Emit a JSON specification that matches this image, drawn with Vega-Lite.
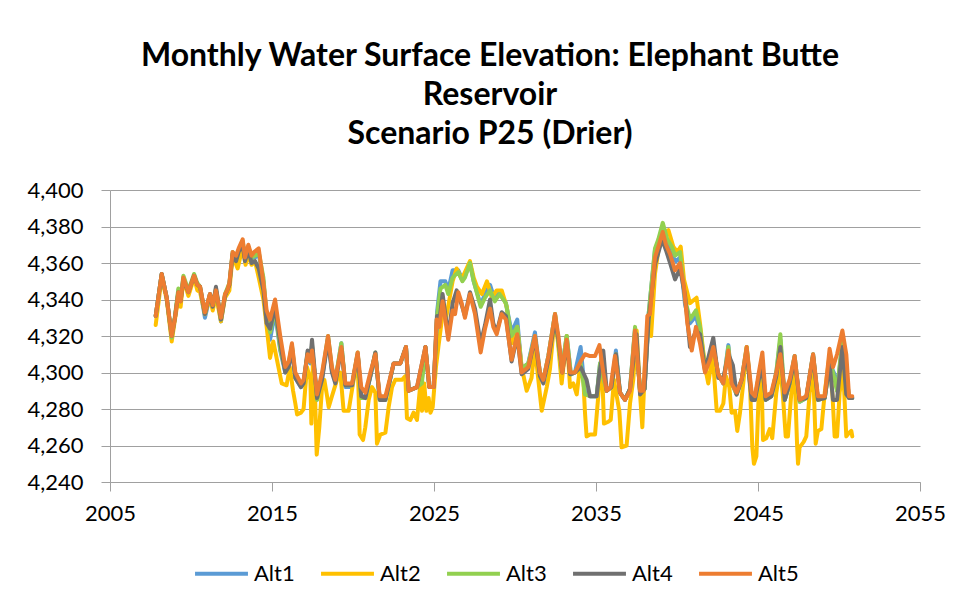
{
"$schema": "https://vega.github.io/schema/vega-lite/v6.json",
"autosize": {"type": "none"},
"width": 810,
"height": 292,
"padding": {"left": 110, "top": 190, "right": 43, "bottom": 126},
"background": "white",
"title": {"text": ["Monthly Water Surface Elevation: Elephant Butte", "Reservoir", "Scenario P25 (Drier)"], "font": "Lato", "fontSize": 32, "fontWeight": "bold", "color": "black", "lineHeight": 39, "offset": 28, "dx": -25, "anchor": "middle"},
"data": {"values": [
{"alt":"Alt1","year":2007.82,"elev":4331},{"alt":"Alt1","year":2008.19,"elev":4354},{"alt":"Alt1","year":2008.5,"elev":4341},{"alt":"Alt1","year":2008.81,"elev":4319},{"alt":"Alt1","year":2009.01,"elev":4330},{"alt":"Alt1","year":2009.22,"elev":4345},{"alt":"Alt1","year":2009.36,"elev":4339},{"alt":"Alt1","year":2009.53,"elev":4352},{"alt":"Alt1","year":2009.84,"elev":4344},{"alt":"Alt1","year":2010.19,"elev":4353},{"alt":"Alt1","year":2010.39,"elev":4348},{"alt":"Alt1","year":2010.56,"elev":4346},{"alt":"Alt1","year":2010.86,"elev":4330},{"alt":"Alt1","year":2011.17,"elev":4342},{"alt":"Alt1","year":2011.34,"elev":4336},{"alt":"Alt1","year":2011.54,"elev":4345},{"alt":"Alt1","year":2011.85,"elev":4328},{"alt":"Alt1","year":2012.1,"elev":4342},{"alt":"Alt1","year":2012.37,"elev":4348},{"alt":"Alt1","year":2012.57,"elev":4365},{"alt":"Alt1","year":2012.78,"elev":4362},{"alt":"Alt1","year":2012.94,"elev":4366},{"alt":"Alt1","year":2013.19,"elev":4371},{"alt":"Alt1","year":2013.33,"elev":4362},{"alt":"Alt1","year":2013.54,"elev":4368},{"alt":"Alt1","year":2013.74,"elev":4362},{"alt":"Alt1","year":2013.95,"elev":4363},{"alt":"Alt1","year":2014.18,"elev":4365},{"alt":"Alt1","year":2014.47,"elev":4350},{"alt":"Alt1","year":2014.67,"elev":4330},{"alt":"Alt1","year":2014.88,"elev":4318},{"alt":"Alt1","year":2015.19,"elev":4333},{"alt":"Alt1","year":2015.51,"elev":4312},{"alt":"Alt1","year":2015.82,"elev":4300},{"alt":"Alt1","year":2016.03,"elev":4304},{"alt":"Alt1","year":2016.23,"elev":4314},{"alt":"Alt1","year":2016.44,"elev":4297},{"alt":"Alt1","year":2016.79,"elev":4292},{"alt":"Alt1","year":2016.95,"elev":4294},{"alt":"Alt1","year":2017.2,"elev":4310},{"alt":"Alt1","year":2017.37,"elev":4305},{"alt":"Alt1","year":2017.47,"elev":4314},{"alt":"Alt1","year":2017.78,"elev":4285},{"alt":"Alt1","year":2018.09,"elev":4297},{"alt":"Alt1","year":2018.46,"elev":4319},{"alt":"Alt1","year":2018.7,"elev":4301},{"alt":"Alt1","year":2018.91,"elev":4295},{"alt":"Alt1","year":2019.28,"elev":4316},{"alt":"Alt1","year":2019.53,"elev":4292},{"alt":"Alt1","year":2019.94,"elev":4292},{"alt":"Alt1","year":2020.29,"elev":4310},{"alt":"Alt1","year":2020.51,"elev":4287},{"alt":"Alt1","year":2020.76,"elev":4287},{"alt":"Alt1","year":2021.07,"elev":4298},{"alt":"Alt1","year":2021.38,"elev":4310},{"alt":"Alt1","year":2021.65,"elev":4285},{"alt":"Alt1","year":2022.0,"elev":4285},{"alt":"Alt1","year":2022.26,"elev":4295},{"alt":"Alt1","year":2022.51,"elev":4305},{"alt":"Alt1","year":2022.92,"elev":4305},{"alt":"Alt1","year":2023.27,"elev":4314},{"alt":"Alt1","year":2023.44,"elev":4290},{"alt":"Alt1","year":2023.95,"elev":4292},{"alt":"Alt1","year":2024.25,"elev":4296},{"alt":"Alt1","year":2024.47,"elev":4314},{"alt":"Alt1","year":2024.71,"elev":4292},{"alt":"Alt1","year":2024.98,"elev":4292},{"alt":"Alt1","year":2025.19,"elev":4333},{"alt":"Alt1","year":2025.4,"elev":4350},{"alt":"Alt1","year":2025.7,"elev":4350},{"alt":"Alt1","year":2025.88,"elev":4345},{"alt":"Alt1","year":2026.15,"elev":4356},{"alt":"Alt1","year":2026.5,"elev":4356},{"alt":"Alt1","year":2026.75,"elev":4351},{"alt":"Alt1","year":2026.91,"elev":4353},{"alt":"Alt1","year":2027.22,"elev":4360},{"alt":"Alt1","year":2027.45,"elev":4350},{"alt":"Alt1","year":2027.88,"elev":4337},{"alt":"Alt1","year":2028.15,"elev":4343},{"alt":"Alt1","year":2028.46,"elev":4348},{"alt":"Alt1","year":2028.75,"elev":4340},{"alt":"Alt1","year":2029.05,"elev":4344},{"alt":"Alt1","year":2029.44,"elev":4338},{"alt":"Alt1","year":2029.79,"elev":4322},{"alt":"Alt1","year":2030.14,"elev":4329},{"alt":"Alt1","year":2030.41,"elev":4302},{"alt":"Alt1","year":2030.82,"elev":4305},{"alt":"Alt1","year":2031.23,"elev":4322},{"alt":"Alt1","year":2031.54,"elev":4300},{"alt":"Alt1","year":2031.75,"elev":4296},{"alt":"Alt1","year":2032.06,"elev":4309},{"alt":"Alt1","year":2032.47,"elev":4332},{"alt":"Alt1","year":2032.88,"elev":4301},{"alt":"Alt1","year":2033.19,"elev":4320},{"alt":"Alt1","year":2033.45,"elev":4299},{"alt":"Alt1","year":2033.7,"elev":4300},{"alt":"Alt1","year":2034.05,"elev":4314},{"alt":"Alt1","year":2034.32,"elev":4289},{"alt":"Alt1","year":2034.63,"elev":4287},{"alt":"Alt1","year":2035.04,"elev":4287},{"alt":"Alt1","year":2035.25,"elev":4305},{"alt":"Alt1","year":2035.45,"elev":4297},{"alt":"Alt1","year":2035.66,"elev":4290},{"alt":"Alt1","year":2035.95,"elev":4292},{"alt":"Alt1","year":2036.23,"elev":4312},{"alt":"Alt1","year":2036.48,"elev":4289},{"alt":"Alt1","year":2036.79,"elev":4285},{"alt":"Alt1","year":2037.1,"elev":4291},{"alt":"Alt1","year":2037.41,"elev":4324},{"alt":"Alt1","year":2037.72,"elev":4290},{"alt":"Alt1","year":2038.0,"elev":4291},{"alt":"Alt1","year":2038.25,"elev":4332},{"alt":"Alt1","year":2038.64,"elev":4367},{"alt":"Alt1","year":2038.85,"elev":4372},{"alt":"Alt1","year":2039.12,"elev":4380},{"alt":"Alt1","year":2039.4,"elev":4370},{"alt":"Alt1","year":2039.68,"elev":4364},{"alt":"Alt1","year":2039.94,"elev":4361},{"alt":"Alt1","year":2040.19,"elev":4363},{"alt":"Alt1","year":2040.5,"elev":4337},{"alt":"Alt1","year":2040.8,"elev":4327},{"alt":"Alt1","year":2041.17,"elev":4331},{"alt":"Alt1","year":2041.42,"elev":4322},{"alt":"Alt1","year":2041.73,"elev":4302},{"alt":"Alt1","year":2042.24,"elev":4314},{"alt":"Alt1","year":2042.55,"elev":4299},{"alt":"Alt1","year":2042.86,"elev":4294},{"alt":"Alt1","year":2043.17,"elev":4315},{"alt":"Alt1","year":2043.4,"elev":4294},{"alt":"Alt1","year":2043.68,"elev":4288},{"alt":"Alt1","year":2043.99,"elev":4296},{"alt":"Alt1","year":2044.3,"elev":4313},{"alt":"Alt1","year":2044.61,"elev":4285},{"alt":"Alt1","year":2044.81,"elev":4285},{"alt":"Alt1","year":2045.05,"elev":4298},{"alt":"Alt1","year":2045.27,"elev":4303},{"alt":"Alt1","year":2045.47,"elev":4285},{"alt":"Alt1","year":2045.82,"elev":4287},{"alt":"Alt1","year":2046.13,"elev":4300},{"alt":"Alt1","year":2046.38,"elev":4318},{"alt":"Alt1","year":2046.65,"elev":4285},{"alt":"Alt1","year":2046.95,"elev":4294},{"alt":"Alt1","year":2047.26,"elev":4309},{"alt":"Alt1","year":2047.57,"elev":4284},{"alt":"Alt1","year":2047.98,"elev":4286},{"alt":"Alt1","year":2048.4,"elev":4310},{"alt":"Alt1","year":2048.7,"elev":4285},{"alt":"Alt1","year":2049.12,"elev":4286},{"alt":"Alt1","year":2049.42,"elev":4305},{"alt":"Alt1","year":2049.73,"elev":4299},{"alt":"Alt1","year":2049.88,"elev":4290},{"alt":"Alt1","year":2050.21,"elev":4316},{"alt":"Alt1","year":2050.45,"elev":4300},{"alt":"Alt1","year":2050.62,"elev":4286},{"alt":"Alt1","year":2050.82,"elev":4286},
{"alt":"Alt2","year":2007.82,"elev":4326},{"alt":"Alt2","year":2008.19,"elev":4352},{"alt":"Alt2","year":2008.5,"elev":4340},{"alt":"Alt2","year":2008.81,"elev":4317},{"alt":"Alt2","year":2009.01,"elev":4329},{"alt":"Alt2","year":2009.22,"elev":4341},{"alt":"Alt2","year":2009.36,"elev":4336},{"alt":"Alt2","year":2009.53,"elev":4351},{"alt":"Alt2","year":2009.84,"elev":4342},{"alt":"Alt2","year":2010.19,"elev":4352},{"alt":"Alt2","year":2010.39,"elev":4345},{"alt":"Alt2","year":2010.56,"elev":4344},{"alt":"Alt2","year":2010.86,"elev":4332},{"alt":"Alt2","year":2011.17,"elev":4341},{"alt":"Alt2","year":2011.34,"elev":4334},{"alt":"Alt2","year":2011.54,"elev":4342},{"alt":"Alt2","year":2011.85,"elev":4328},{"alt":"Alt2","year":2012.1,"elev":4341},{"alt":"Alt2","year":2012.37,"elev":4345},{"alt":"Alt2","year":2012.57,"elev":4364},{"alt":"Alt2","year":2012.88,"elev":4357},{"alt":"Alt2","year":2013.19,"elev":4369},{"alt":"Alt2","year":2013.37,"elev":4359},{"alt":"Alt2","year":2013.54,"elev":4365},{"alt":"Alt2","year":2013.74,"elev":4359},{"alt":"Alt2","year":2013.95,"elev":4361},{"alt":"Alt2","year":2014.18,"elev":4352},{"alt":"Alt2","year":2014.47,"elev":4340},{"alt":"Alt2","year":2014.67,"elev":4325},{"alt":"Alt2","year":2014.88,"elev":4308},{"alt":"Alt2","year":2015.08,"elev":4317},{"alt":"Alt2","year":2015.35,"elev":4305},{"alt":"Alt2","year":2015.6,"elev":4294},{"alt":"Alt2","year":2015.9,"elev":4293},{"alt":"Alt2","year":2016.1,"elev":4303},{"alt":"Alt2","year":2016.3,"elev":4290},{"alt":"Alt2","year":2016.44,"elev":4283},{"alt":"Alt2","year":2016.55,"elev":4277},{"alt":"Alt2","year":2016.79,"elev":4278},{"alt":"Alt2","year":2016.95,"elev":4280},{"alt":"Alt2","year":2017.16,"elev":4303},{"alt":"Alt2","year":2017.37,"elev":4296},{"alt":"Alt2","year":2017.43,"elev":4272},{"alt":"Alt2","year":2017.53,"elev":4308},{"alt":"Alt2","year":2017.66,"elev":4286},{"alt":"Alt2","year":2017.76,"elev":4255},{"alt":"Alt2","year":2017.92,"elev":4270},{"alt":"Alt2","year":2018.09,"elev":4292},{"alt":"Alt2","year":2018.23,"elev":4296},{"alt":"Alt2","year":2018.4,"elev":4287},{"alt":"Alt2","year":2018.5,"elev":4281},{"alt":"Alt2","year":2018.7,"elev":4287},{"alt":"Alt2","year":2019.01,"elev":4296},{"alt":"Alt2","year":2019.22,"elev":4300},{"alt":"Alt2","year":2019.42,"elev":4279},{"alt":"Alt2","year":2019.73,"elev":4279},{"alt":"Alt2","year":2020.04,"elev":4296},{"alt":"Alt2","year":2020.29,"elev":4307},{"alt":"Alt2","year":2020.41,"elev":4266},{"alt":"Alt2","year":2020.62,"elev":4263},{"alt":"Alt2","year":2020.76,"elev":4270},{"alt":"Alt2","year":2020.97,"elev":4285},{"alt":"Alt2","year":2021.17,"elev":4292},{"alt":"Alt2","year":2021.38,"elev":4289},{"alt":"Alt2","year":2021.48,"elev":4261},{"alt":"Alt2","year":2021.69,"elev":4266},{"alt":"Alt2","year":2022.0,"elev":4267},{"alt":"Alt2","year":2022.2,"elev":4281},{"alt":"Alt2","year":2022.41,"elev":4292},{"alt":"Alt2","year":2022.61,"elev":4296},{"alt":"Alt2","year":2023.02,"elev":4296},{"alt":"Alt2","year":2023.23,"elev":4298},{"alt":"Alt2","year":2023.33,"elev":4275},{"alt":"Alt2","year":2023.54,"elev":4274},{"alt":"Alt2","year":2023.74,"elev":4278},{"alt":"Alt2","year":2023.95,"elev":4274},{"alt":"Alt2","year":2024.15,"elev":4293},{"alt":"Alt2","year":2024.26,"elev":4279},{"alt":"Alt2","year":2024.4,"elev":4294},{"alt":"Alt2","year":2024.53,"elev":4279},{"alt":"Alt2","year":2024.67,"elev":4286},{"alt":"Alt2","year":2024.78,"elev":4278},{"alt":"Alt2","year":2024.92,"elev":4281},{"alt":"Alt2","year":2025.12,"elev":4303},{"alt":"Alt2","year":2025.27,"elev":4314},{"alt":"Alt2","year":2025.53,"elev":4332},{"alt":"Alt2","year":2025.75,"elev":4330},{"alt":"Alt2","year":2025.95,"elev":4340},{"alt":"Alt2","year":2026.15,"elev":4350},{"alt":"Alt2","year":2026.4,"elev":4357},{"alt":"Alt2","year":2026.71,"elev":4351},{"alt":"Alt2","year":2026.91,"elev":4355},{"alt":"Alt2","year":2027.22,"elev":4361},{"alt":"Alt2","year":2027.45,"elev":4352},{"alt":"Alt2","year":2027.65,"elev":4347},{"alt":"Alt2","year":2027.96,"elev":4343},{"alt":"Alt2","year":2028.27,"elev":4350},{"alt":"Alt2","year":2028.57,"elev":4341},{"alt":"Alt2","year":2028.87,"elev":4345},{"alt":"Alt2","year":2029.18,"elev":4345},{"alt":"Alt2","year":2029.49,"elev":4336},{"alt":"Alt2","year":2029.79,"elev":4316},{"alt":"Alt2","year":2030.14,"elev":4325},{"alt":"Alt2","year":2030.41,"elev":4303},{"alt":"Alt2","year":2030.72,"elev":4290},{"alt":"Alt2","year":2031.02,"elev":4297},{"alt":"Alt2","year":2031.23,"elev":4314},{"alt":"Alt2","year":2031.44,"elev":4296},{"alt":"Alt2","year":2031.65,"elev":4279},{"alt":"Alt2","year":2031.96,"elev":4292},{"alt":"Alt2","year":2032.16,"elev":4302},{"alt":"Alt2","year":2032.47,"elev":4332},{"alt":"Alt2","year":2032.68,"elev":4314},{"alt":"Alt2","year":2032.88,"elev":4294},{"alt":"Alt2","year":2033.19,"elev":4320},{"alt":"Alt2","year":2033.4,"elev":4292},{"alt":"Alt2","year":2033.6,"elev":4294},{"alt":"Alt2","year":2033.81,"elev":4288},{"alt":"Alt2","year":2034.01,"elev":4303},{"alt":"Alt2","year":2034.22,"elev":4296},{"alt":"Alt2","year":2034.32,"elev":4278},{"alt":"Alt2","year":2034.42,"elev":4265},{"alt":"Alt2","year":2034.63,"elev":4266},{"alt":"Alt2","year":2034.94,"elev":4266},{"alt":"Alt2","year":2035.14,"elev":4287},{"alt":"Alt2","year":2035.35,"elev":4310},{"alt":"Alt2","year":2035.49,"elev":4272},{"alt":"Alt2","year":2035.76,"elev":4273},{"alt":"Alt2","year":2035.91,"elev":4274},{"alt":"Alt2","year":2036.11,"elev":4296},{"alt":"Alt2","year":2036.28,"elev":4287},{"alt":"Alt2","year":2036.44,"elev":4279},{"alt":"Alt2","year":2036.58,"elev":4259},{"alt":"Alt2","year":2036.89,"elev":4260},{"alt":"Alt2","year":2037.1,"elev":4283},{"alt":"Alt2","year":2037.3,"elev":4296},{"alt":"Alt2","year":2037.51,"elev":4323},{"alt":"Alt2","year":2037.72,"elev":4288},{"alt":"Alt2","year":2037.86,"elev":4270},{"alt":"Alt2","year":2038.02,"elev":4303},{"alt":"Alt2","year":2038.23,"elev":4329},{"alt":"Alt2","year":2038.4,"elev":4320},{"alt":"Alt2","year":2038.64,"elev":4354},{"alt":"Alt2","year":2038.95,"elev":4373},{"alt":"Alt2","year":2039.16,"elev":4376},{"alt":"Alt2","year":2039.47,"elev":4378},{"alt":"Alt2","year":2039.77,"elev":4369},{"alt":"Alt2","year":2040.02,"elev":4366},{"alt":"Alt2","year":2040.23,"elev":4369},{"alt":"Alt2","year":2040.43,"elev":4351},{"alt":"Alt2","year":2040.8,"elev":4338},{"alt":"Alt2","year":2041.21,"elev":4341},{"alt":"Alt2","year":2041.42,"elev":4327},{"alt":"Alt2","year":2041.73,"elev":4303},{"alt":"Alt2","year":2041.93,"elev":4294},{"alt":"Alt2","year":2042.2,"elev":4310},{"alt":"Alt2","year":2042.45,"elev":4279},{"alt":"Alt2","year":2042.65,"elev":4279},{"alt":"Alt2","year":2042.86,"elev":4283},{"alt":"Alt2","year":2043.02,"elev":4298},{"alt":"Alt2","year":2043.23,"elev":4292},{"alt":"Alt2","year":2043.37,"elev":4278},{"alt":"Alt2","year":2043.58,"elev":4279},{"alt":"Alt2","year":2043.72,"elev":4268},{"alt":"Alt2","year":2043.89,"elev":4278},{"alt":"Alt2","year":2044.09,"elev":4294},{"alt":"Alt2","year":2044.3,"elev":4314},{"alt":"Alt2","year":2044.51,"elev":4292},{"alt":"Alt2","year":2044.65,"elev":4259},{"alt":"Alt2","year":2044.75,"elev":4250},{"alt":"Alt2","year":2044.9,"elev":4254},{"alt":"Alt2","year":2045.06,"elev":4292},{"alt":"Alt2","year":2045.21,"elev":4300},{"alt":"Alt2","year":2045.31,"elev":4263},{"alt":"Alt2","year":2045.51,"elev":4264},{"alt":"Alt2","year":2045.72,"elev":4269},{"alt":"Alt2","year":2045.88,"elev":4264},{"alt":"Alt2","year":2046.13,"elev":4289},{"alt":"Alt2","year":2046.38,"elev":4303},{"alt":"Alt2","year":2046.54,"elev":4287},{"alt":"Alt2","year":2046.71,"elev":4265},{"alt":"Alt2","year":2046.85,"elev":4265},{"alt":"Alt2","year":2047.06,"elev":4289},{"alt":"Alt2","year":2047.26,"elev":4300},{"alt":"Alt2","year":2047.41,"elev":4261},{"alt":"Alt2","year":2047.47,"elev":4250},{"alt":"Alt2","year":2047.57,"elev":4259},{"alt":"Alt2","year":2047.82,"elev":4262},{"alt":"Alt2","year":2047.98,"elev":4265},{"alt":"Alt2","year":2048.19,"elev":4289},{"alt":"Alt2","year":2048.4,"elev":4303},{"alt":"Alt2","year":2048.56,"elev":4261},{"alt":"Alt2","year":2048.7,"elev":4268},{"alt":"Alt2","year":2048.91,"elev":4269},{"alt":"Alt2","year":2049.12,"elev":4289},{"alt":"Alt2","year":2049.38,"elev":4307},{"alt":"Alt2","year":2049.59,"elev":4289},{"alt":"Alt2","year":2049.73,"elev":4265},{"alt":"Alt2","year":2049.88,"elev":4265},{"alt":"Alt2","year":2050.04,"elev":4289},{"alt":"Alt2","year":2050.25,"elev":4303},{"alt":"Alt2","year":2050.45,"elev":4265},{"alt":"Alt2","year":2050.62,"elev":4267},{"alt":"Alt2","year":2050.76,"elev":4268},{"alt":"Alt2","year":2050.82,"elev":4265},
{"alt":"Alt3","year":2007.82,"elev":4331},{"alt":"Alt3","year":2008.19,"elev":4354},{"alt":"Alt3","year":2008.5,"elev":4341},{"alt":"Alt3","year":2008.81,"elev":4319},{"alt":"Alt3","year":2009.01,"elev":4331},{"alt":"Alt3","year":2009.22,"elev":4346},{"alt":"Alt3","year":2009.36,"elev":4340},{"alt":"Alt3","year":2009.53,"elev":4353},{"alt":"Alt3","year":2009.84,"elev":4345},{"alt":"Alt3","year":2010.19,"elev":4354},{"alt":"Alt3","year":2010.39,"elev":4349},{"alt":"Alt3","year":2010.56,"elev":4347},{"alt":"Alt3","year":2010.86,"elev":4332},{"alt":"Alt3","year":2011.17,"elev":4343},{"alt":"Alt3","year":2011.34,"elev":4337},{"alt":"Alt3","year":2011.54,"elev":4346},{"alt":"Alt3","year":2011.85,"elev":4329},{"alt":"Alt3","year":2012.1,"elev":4343},{"alt":"Alt3","year":2012.37,"elev":4349},{"alt":"Alt3","year":2012.57,"elev":4366},{"alt":"Alt3","year":2012.78,"elev":4363},{"alt":"Alt3","year":2012.94,"elev":4367},{"alt":"Alt3","year":2013.19,"elev":4372},{"alt":"Alt3","year":2013.33,"elev":4363},{"alt":"Alt3","year":2013.54,"elev":4369},{"alt":"Alt3","year":2013.74,"elev":4363},{"alt":"Alt3","year":2013.95,"elev":4364},{"alt":"Alt3","year":2014.18,"elev":4366},{"alt":"Alt3","year":2014.47,"elev":4352},{"alt":"Alt3","year":2014.67,"elev":4331},{"alt":"Alt3","year":2014.88,"elev":4322},{"alt":"Alt3","year":2015.19,"elev":4335},{"alt":"Alt3","year":2015.51,"elev":4313},{"alt":"Alt3","year":2015.82,"elev":4301},{"alt":"Alt3","year":2016.03,"elev":4305},{"alt":"Alt3","year":2016.23,"elev":4315},{"alt":"Alt3","year":2016.44,"elev":4298},{"alt":"Alt3","year":2016.79,"elev":4293},{"alt":"Alt3","year":2016.95,"elev":4295},{"alt":"Alt3","year":2017.2,"elev":4311},{"alt":"Alt3","year":2017.37,"elev":4306},{"alt":"Alt3","year":2017.47,"elev":4315},{"alt":"Alt3","year":2017.78,"elev":4285},{"alt":"Alt3","year":2018.09,"elev":4298},{"alt":"Alt3","year":2018.46,"elev":4320},{"alt":"Alt3","year":2018.7,"elev":4302},{"alt":"Alt3","year":2018.91,"elev":4296},{"alt":"Alt3","year":2019.28,"elev":4316},{"alt":"Alt3","year":2019.53,"elev":4293},{"alt":"Alt3","year":2019.94,"elev":4293},{"alt":"Alt3","year":2020.29,"elev":4311},{"alt":"Alt3","year":2020.51,"elev":4286},{"alt":"Alt3","year":2020.76,"elev":4286},{"alt":"Alt3","year":2021.07,"elev":4298},{"alt":"Alt3","year":2021.38,"elev":4311},{"alt":"Alt3","year":2021.65,"elev":4285},{"alt":"Alt3","year":2022.0,"elev":4285},{"alt":"Alt3","year":2022.26,"elev":4295},{"alt":"Alt3","year":2022.51,"elev":4305},{"alt":"Alt3","year":2022.92,"elev":4305},{"alt":"Alt3","year":2023.27,"elev":4314},{"alt":"Alt3","year":2023.44,"elev":4290},{"alt":"Alt3","year":2023.95,"elev":4292},{"alt":"Alt3","year":2024.25,"elev":4294},{"alt":"Alt3","year":2024.47,"elev":4314},{"alt":"Alt3","year":2024.71,"elev":4292},{"alt":"Alt3","year":2024.98,"elev":4292},{"alt":"Alt3","year":2025.19,"elev":4331},{"alt":"Alt3","year":2025.4,"elev":4346},{"alt":"Alt3","year":2025.7,"elev":4348},{"alt":"Alt3","year":2025.88,"elev":4343},{"alt":"Alt3","year":2026.15,"elev":4352},{"alt":"Alt3","year":2026.5,"elev":4355},{"alt":"Alt3","year":2026.75,"elev":4350},{"alt":"Alt3","year":2026.91,"elev":4352},{"alt":"Alt3","year":2027.22,"elev":4360},{"alt":"Alt3","year":2027.45,"elev":4350},{"alt":"Alt3","year":2027.88,"elev":4336},{"alt":"Alt3","year":2028.15,"elev":4341},{"alt":"Alt3","year":2028.46,"elev":4345},{"alt":"Alt3","year":2028.75,"elev":4339},{"alt":"Alt3","year":2029.05,"elev":4343},{"alt":"Alt3","year":2029.44,"elev":4338},{"alt":"Alt3","year":2029.79,"elev":4320},{"alt":"Alt3","year":2030.14,"elev":4325},{"alt":"Alt3","year":2030.41,"elev":4302},{"alt":"Alt3","year":2030.82,"elev":4305},{"alt":"Alt3","year":2031.23,"elev":4320},{"alt":"Alt3","year":2031.54,"elev":4300},{"alt":"Alt3","year":2031.75,"elev":4296},{"alt":"Alt3","year":2032.06,"elev":4309},{"alt":"Alt3","year":2032.47,"elev":4332},{"alt":"Alt3","year":2032.88,"elev":4301},{"alt":"Alt3","year":2033.19,"elev":4320},{"alt":"Alt3","year":2033.45,"elev":4299},{"alt":"Alt3","year":2033.7,"elev":4300},{"alt":"Alt3","year":2034.05,"elev":4305},{"alt":"Alt3","year":2034.32,"elev":4288},{"alt":"Alt3","year":2034.63,"elev":4287},{"alt":"Alt3","year":2035.04,"elev":4287},{"alt":"Alt3","year":2035.25,"elev":4305},{"alt":"Alt3","year":2035.45,"elev":4297},{"alt":"Alt3","year":2035.66,"elev":4290},{"alt":"Alt3","year":2035.95,"elev":4292},{"alt":"Alt3","year":2036.23,"elev":4310},{"alt":"Alt3","year":2036.48,"elev":4289},{"alt":"Alt3","year":2036.79,"elev":4285},{"alt":"Alt3","year":2037.1,"elev":4291},{"alt":"Alt3","year":2037.41,"elev":4325},{"alt":"Alt3","year":2037.72,"elev":4290},{"alt":"Alt3","year":2038.0,"elev":4291},{"alt":"Alt3","year":2038.25,"elev":4332},{"alt":"Alt3","year":2038.64,"elev":4368},{"alt":"Alt3","year":2038.85,"elev":4373},{"alt":"Alt3","year":2039.12,"elev":4382},{"alt":"Alt3","year":2039.4,"elev":4373},{"alt":"Alt3","year":2039.68,"elev":4369},{"alt":"Alt3","year":2039.88,"elev":4364},{"alt":"Alt3","year":2040.19,"elev":4366},{"alt":"Alt3","year":2040.5,"elev":4340},{"alt":"Alt3","year":2040.8,"elev":4329},{"alt":"Alt3","year":2041.17,"elev":4334},{"alt":"Alt3","year":2041.42,"elev":4325},{"alt":"Alt3","year":2041.73,"elev":4302},{"alt":"Alt3","year":2042.24,"elev":4314},{"alt":"Alt3","year":2042.55,"elev":4299},{"alt":"Alt3","year":2042.86,"elev":4294},{"alt":"Alt3","year":2043.17,"elev":4314},{"alt":"Alt3","year":2043.4,"elev":4294},{"alt":"Alt3","year":2043.68,"elev":4288},{"alt":"Alt3","year":2043.99,"elev":4296},{"alt":"Alt3","year":2044.3,"elev":4314},{"alt":"Alt3","year":2044.61,"elev":4286},{"alt":"Alt3","year":2044.81,"elev":4286},{"alt":"Alt3","year":2045.05,"elev":4298},{"alt":"Alt3","year":2045.27,"elev":4303},{"alt":"Alt3","year":2045.47,"elev":4285},{"alt":"Alt3","year":2045.82,"elev":4287},{"alt":"Alt3","year":2046.13,"elev":4300},{"alt":"Alt3","year":2046.38,"elev":4321},{"alt":"Alt3","year":2046.65,"elev":4285},{"alt":"Alt3","year":2046.95,"elev":4294},{"alt":"Alt3","year":2047.26,"elev":4309},{"alt":"Alt3","year":2047.57,"elev":4284},{"alt":"Alt3","year":2047.98,"elev":4286},{"alt":"Alt3","year":2048.4,"elev":4310},{"alt":"Alt3","year":2048.7,"elev":4285},{"alt":"Alt3","year":2049.12,"elev":4286},{"alt":"Alt3","year":2049.42,"elev":4305},{"alt":"Alt3","year":2049.63,"elev":4300},{"alt":"Alt3","year":2049.88,"elev":4290},{"alt":"Alt3","year":2050.21,"elev":4318},{"alt":"Alt3","year":2050.45,"elev":4300},{"alt":"Alt3","year":2050.62,"elev":4286},{"alt":"Alt3","year":2050.82,"elev":4286},
{"alt":"Alt4","year":2007.82,"elev":4331},{"alt":"Alt4","year":2008.19,"elev":4354},{"alt":"Alt4","year":2008.5,"elev":4341},{"alt":"Alt4","year":2008.81,"elev":4320},{"alt":"Alt4","year":2009.01,"elev":4330},{"alt":"Alt4","year":2009.22,"elev":4344},{"alt":"Alt4","year":2009.36,"elev":4339},{"alt":"Alt4","year":2009.53,"elev":4351},{"alt":"Alt4","year":2009.84,"elev":4344},{"alt":"Alt4","year":2010.19,"elev":4353},{"alt":"Alt4","year":2010.39,"elev":4348},{"alt":"Alt4","year":2010.56,"elev":4347},{"alt":"Alt4","year":2010.86,"elev":4332},{"alt":"Alt4","year":2011.17,"elev":4343},{"alt":"Alt4","year":2011.34,"elev":4336},{"alt":"Alt4","year":2011.54,"elev":4347},{"alt":"Alt4","year":2011.85,"elev":4329},{"alt":"Alt4","year":2012.1,"elev":4342},{"alt":"Alt4","year":2012.37,"elev":4348},{"alt":"Alt4","year":2012.57,"elev":4365},{"alt":"Alt4","year":2012.78,"elev":4361},{"alt":"Alt4","year":2012.94,"elev":4366},{"alt":"Alt4","year":2013.19,"elev":4370},{"alt":"Alt4","year":2013.33,"elev":4361},{"alt":"Alt4","year":2013.54,"elev":4367},{"alt":"Alt4","year":2013.74,"elev":4360},{"alt":"Alt4","year":2013.95,"elev":4361},{"alt":"Alt4","year":2014.18,"elev":4357},{"alt":"Alt4","year":2014.47,"elev":4345},{"alt":"Alt4","year":2014.67,"elev":4327},{"alt":"Alt4","year":2014.88,"elev":4324},{"alt":"Alt4","year":2015.19,"elev":4336},{"alt":"Alt4","year":2015.51,"elev":4316},{"alt":"Alt4","year":2015.82,"elev":4300},{"alt":"Alt4","year":2016.03,"elev":4303},{"alt":"Alt4","year":2016.23,"elev":4313},{"alt":"Alt4","year":2016.44,"elev":4297},{"alt":"Alt4","year":2016.79,"elev":4292},{"alt":"Alt4","year":2016.95,"elev":4294},{"alt":"Alt4","year":2017.2,"elev":4312},{"alt":"Alt4","year":2017.37,"elev":4308},{"alt":"Alt4","year":2017.47,"elev":4318},{"alt":"Alt4","year":2017.78,"elev":4286},{"alt":"Alt4","year":2018.09,"elev":4296},{"alt":"Alt4","year":2018.46,"elev":4318},{"alt":"Alt4","year":2018.7,"elev":4300},{"alt":"Alt4","year":2018.91,"elev":4294},{"alt":"Alt4","year":2019.28,"elev":4313},{"alt":"Alt4","year":2019.53,"elev":4293},{"alt":"Alt4","year":2019.94,"elev":4293},{"alt":"Alt4","year":2020.29,"elev":4310},{"alt":"Alt4","year":2020.51,"elev":4287},{"alt":"Alt4","year":2020.76,"elev":4286},{"alt":"Alt4","year":2021.07,"elev":4298},{"alt":"Alt4","year":2021.38,"elev":4311},{"alt":"Alt4","year":2021.65,"elev":4285},{"alt":"Alt4","year":2022.0,"elev":4285},{"alt":"Alt4","year":2022.26,"elev":4295},{"alt":"Alt4","year":2022.51,"elev":4305},{"alt":"Alt4","year":2022.92,"elev":4305},{"alt":"Alt4","year":2023.27,"elev":4314},{"alt":"Alt4","year":2023.44,"elev":4290},{"alt":"Alt4","year":2023.95,"elev":4292},{"alt":"Alt4","year":2024.47,"elev":4314},{"alt":"Alt4","year":2024.71,"elev":4292},{"alt":"Alt4","year":2024.98,"elev":4292},{"alt":"Alt4","year":2025.19,"elev":4331},{"alt":"Alt4","year":2025.33,"elev":4328},{"alt":"Alt4","year":2025.53,"elev":4343},{"alt":"Alt4","year":2025.88,"elev":4320},{"alt":"Alt4","year":2026.15,"elev":4338},{"alt":"Alt4","year":2026.4,"elev":4345},{"alt":"Alt4","year":2026.71,"elev":4337},{"alt":"Alt4","year":2026.91,"elev":4331},{"alt":"Alt4","year":2027.22,"elev":4344},{"alt":"Alt4","year":2027.53,"elev":4335},{"alt":"Alt4","year":2027.88,"elev":4316},{"alt":"Alt4","year":2028.15,"elev":4326},{"alt":"Alt4","year":2028.46,"elev":4340},{"alt":"Alt4","year":2028.66,"elev":4327},{"alt":"Alt4","year":2028.87,"elev":4322},{"alt":"Alt4","year":2029.18,"elev":4333},{"alt":"Alt4","year":2029.44,"elev":4331},{"alt":"Alt4","year":2029.79,"elev":4306},{"alt":"Alt4","year":2030.14,"elev":4320},{"alt":"Alt4","year":2030.41,"elev":4299},{"alt":"Alt4","year":2030.82,"elev":4302},{"alt":"Alt4","year":2031.23,"elev":4319},{"alt":"Alt4","year":2031.54,"elev":4298},{"alt":"Alt4","year":2031.75,"elev":4294},{"alt":"Alt4","year":2032.06,"elev":4307},{"alt":"Alt4","year":2032.47,"elev":4329},{"alt":"Alt4","year":2032.68,"elev":4318},{"alt":"Alt4","year":2032.92,"elev":4300},{"alt":"Alt4","year":2033.19,"elev":4316},{"alt":"Alt4","year":2033.4,"elev":4299},{"alt":"Alt4","year":2033.7,"elev":4300},{"alt":"Alt4","year":2034.05,"elev":4303},{"alt":"Alt4","year":2034.42,"elev":4296},{"alt":"Alt4","year":2034.63,"elev":4287},{"alt":"Alt4","year":2035.04,"elev":4287},{"alt":"Alt4","year":2035.21,"elev":4300},{"alt":"Alt4","year":2035.45,"elev":4312},{"alt":"Alt4","year":2035.66,"elev":4290},{"alt":"Alt4","year":2035.95,"elev":4292},{"alt":"Alt4","year":2036.23,"elev":4310},{"alt":"Alt4","year":2036.48,"elev":4289},{"alt":"Alt4","year":2036.79,"elev":4285},{"alt":"Alt4","year":2037.1,"elev":4291},{"alt":"Alt4","year":2037.5,"elev":4321},{"alt":"Alt4","year":2037.72,"elev":4288},{"alt":"Alt4","year":2038.0,"elev":4291},{"alt":"Alt4","year":2038.25,"elev":4329},{"alt":"Alt4","year":2038.64,"elev":4359},{"alt":"Alt4","year":2039.08,"elev":4373},{"alt":"Alt4","year":2039.32,"elev":4367},{"alt":"Alt4","year":2039.57,"elev":4360},{"alt":"Alt4","year":2039.88,"elev":4351},{"alt":"Alt4","year":2040.19,"elev":4357},{"alt":"Alt4","year":2040.5,"elev":4342},{"alt":"Alt4","year":2040.8,"elev":4314},{"alt":"Alt4","year":2041.17,"elev":4323},{"alt":"Alt4","year":2041.42,"elev":4321},{"alt":"Alt4","year":2041.73,"elev":4301},{"alt":"Alt4","year":2042.24,"elev":4319},{"alt":"Alt4","year":2042.55,"elev":4297},{"alt":"Alt4","year":2042.86,"elev":4297},{"alt":"Alt4","year":2043.17,"elev":4310},{"alt":"Alt4","year":2043.45,"elev":4304},{"alt":"Alt4","year":2043.68,"elev":4288},{"alt":"Alt4","year":2043.99,"elev":4296},{"alt":"Alt4","year":2044.3,"elev":4311},{"alt":"Alt4","year":2044.61,"elev":4285},{"alt":"Alt4","year":2044.81,"elev":4285},{"alt":"Alt4","year":2045.05,"elev":4296},{"alt":"Alt4","year":2045.27,"elev":4303},{"alt":"Alt4","year":2045.47,"elev":4285},{"alt":"Alt4","year":2045.82,"elev":4287},{"alt":"Alt4","year":2046.13,"elev":4298},{"alt":"Alt4","year":2046.38,"elev":4314},{"alt":"Alt4","year":2046.65,"elev":4285},{"alt":"Alt4","year":2046.95,"elev":4294},{"alt":"Alt4","year":2047.26,"elev":4307},{"alt":"Alt4","year":2047.57,"elev":4285},{"alt":"Alt4","year":2047.98,"elev":4286},{"alt":"Alt4","year":2048.4,"elev":4309},{"alt":"Alt4","year":2048.7,"elev":4285},{"alt":"Alt4","year":2049.12,"elev":4286},{"alt":"Alt4","year":2049.42,"elev":4305},{"alt":"Alt4","year":2049.63,"elev":4285},{"alt":"Alt4","year":2049.88,"elev":4285},{"alt":"Alt4","year":2050.21,"elev":4314},{"alt":"Alt4","year":2050.45,"elev":4288},{"alt":"Alt4","year":2050.62,"elev":4286},{"alt":"Alt4","year":2050.82,"elev":4286},
{"alt":"Alt5","year":2007.82,"elev":4331},{"alt":"Alt5","year":2008.19,"elev":4354},{"alt":"Alt5","year":2008.5,"elev":4341},{"alt":"Alt5","year":2008.81,"elev":4320},{"alt":"Alt5","year":2009.01,"elev":4330},{"alt":"Alt5","year":2009.22,"elev":4344},{"alt":"Alt5","year":2009.36,"elev":4339},{"alt":"Alt5","year":2009.53,"elev":4352},{"alt":"Alt5","year":2009.84,"elev":4344},{"alt":"Alt5","year":2010.19,"elev":4353},{"alt":"Alt5","year":2010.39,"elev":4348},{"alt":"Alt5","year":2010.56,"elev":4347},{"alt":"Alt5","year":2010.86,"elev":4333},{"alt":"Alt5","year":2011.17,"elev":4343},{"alt":"Alt5","year":2011.34,"elev":4337},{"alt":"Alt5","year":2011.54,"elev":4345},{"alt":"Alt5","year":2011.85,"elev":4330},{"alt":"Alt5","year":2012.1,"elev":4343},{"alt":"Alt5","year":2012.24,"elev":4345},{"alt":"Alt5","year":2012.37,"elev":4349},{"alt":"Alt5","year":2012.57,"elev":4366},{"alt":"Alt5","year":2012.78,"elev":4364},{"alt":"Alt5","year":2012.94,"elev":4368},{"alt":"Alt5","year":2013.19,"elev":4373},{"alt":"Alt5","year":2013.33,"elev":4363},{"alt":"Alt5","year":2013.54,"elev":4370},{"alt":"Alt5","year":2013.74,"elev":4364},{"alt":"Alt5","year":2013.89,"elev":4366},{"alt":"Alt5","year":2014.18,"elev":4368},{"alt":"Alt5","year":2014.47,"elev":4349},{"alt":"Alt5","year":2014.67,"elev":4334},{"alt":"Alt5","year":2014.88,"elev":4329},{"alt":"Alt5","year":2015.19,"elev":4340},{"alt":"Alt5","year":2015.51,"elev":4320},{"alt":"Alt5","year":2015.82,"elev":4303},{"alt":"Alt5","year":2016.03,"elev":4306},{"alt":"Alt5","year":2016.23,"elev":4316},{"alt":"Alt5","year":2016.44,"elev":4300},{"alt":"Alt5","year":2016.79,"elev":4294},{"alt":"Alt5","year":2016.95,"elev":4296},{"alt":"Alt5","year":2017.2,"elev":4310},{"alt":"Alt5","year":2017.37,"elev":4306},{"alt":"Alt5","year":2017.47,"elev":4312},{"alt":"Alt5","year":2017.78,"elev":4288},{"alt":"Alt5","year":2018.09,"elev":4300},{"alt":"Alt5","year":2018.46,"elev":4320},{"alt":"Alt5","year":2018.7,"elev":4303},{"alt":"Alt5","year":2018.91,"elev":4296},{"alt":"Alt5","year":2019.28,"elev":4314},{"alt":"Alt5","year":2019.53,"elev":4294},{"alt":"Alt5","year":2019.94,"elev":4294},{"alt":"Alt5","year":2020.29,"elev":4311},{"alt":"Alt5","year":2020.51,"elev":4292},{"alt":"Alt5","year":2020.76,"elev":4289},{"alt":"Alt5","year":2021.07,"elev":4300},{"alt":"Alt5","year":2021.38,"elev":4310},{"alt":"Alt5","year":2021.65,"elev":4287},{"alt":"Alt5","year":2022.0,"elev":4287},{"alt":"Alt5","year":2022.26,"elev":4296},{"alt":"Alt5","year":2022.51,"elev":4305},{"alt":"Alt5","year":2022.92,"elev":4305},{"alt":"Alt5","year":2023.27,"elev":4314},{"alt":"Alt5","year":2023.44,"elev":4290},{"alt":"Alt5","year":2023.95,"elev":4292},{"alt":"Alt5","year":2024.47,"elev":4314},{"alt":"Alt5","year":2024.71,"elev":4292},{"alt":"Alt5","year":2024.98,"elev":4292},{"alt":"Alt5","year":2025.16,"elev":4329},{"alt":"Alt5","year":2025.33,"elev":4325},{"alt":"Alt5","year":2025.53,"elev":4339},{"alt":"Alt5","year":2025.88,"elev":4318},{"alt":"Alt5","year":2026.15,"elev":4334},{"alt":"Alt5","year":2026.3,"elev":4332},{"alt":"Alt5","year":2026.5,"elev":4344},{"alt":"Alt5","year":2026.71,"elev":4338},{"alt":"Alt5","year":2026.91,"elev":4330},{"alt":"Alt5","year":2027.22,"elev":4343},{"alt":"Alt5","year":2027.53,"elev":4332},{"alt":"Alt5","year":2027.88,"elev":4311},{"alt":"Alt5","year":2028.15,"elev":4324},{"alt":"Alt5","year":2028.46,"elev":4335},{"alt":"Alt5","year":2028.66,"elev":4325},{"alt":"Alt5","year":2028.87,"elev":4321},{"alt":"Alt5","year":2029.18,"elev":4332},{"alt":"Alt5","year":2029.44,"elev":4329},{"alt":"Alt5","year":2029.79,"elev":4307},{"alt":"Alt5","year":2030.14,"elev":4321},{"alt":"Alt5","year":2030.41,"elev":4300},{"alt":"Alt5","year":2030.82,"elev":4303},{"alt":"Alt5","year":2031.23,"elev":4320},{"alt":"Alt5","year":2031.54,"elev":4300},{"alt":"Alt5","year":2031.75,"elev":4296},{"alt":"Alt5","year":2032.06,"elev":4309},{"alt":"Alt5","year":2032.47,"elev":4332},{"alt":"Alt5","year":2032.68,"elev":4320},{"alt":"Alt5","year":2032.92,"elev":4300},{"alt":"Alt5","year":2033.19,"elev":4318},{"alt":"Alt5","year":2033.4,"elev":4300},{"alt":"Alt5","year":2033.7,"elev":4300},{"alt":"Alt5","year":2034.05,"elev":4306},{"alt":"Alt5","year":2034.32,"elev":4310},{"alt":"Alt5","year":2034.63,"elev":4309},{"alt":"Alt5","year":2034.94,"elev":4309},{"alt":"Alt5","year":2035.21,"elev":4315},{"alt":"Alt5","year":2035.45,"elev":4300},{"alt":"Alt5","year":2035.66,"elev":4290},{"alt":"Alt5","year":2035.9,"elev":4292},{"alt":"Alt5","year":2036.17,"elev":4309},{"alt":"Alt5","year":2036.48,"elev":4289},{"alt":"Alt5","year":2036.79,"elev":4285},{"alt":"Alt5","year":2037.1,"elev":4290},{"alt":"Alt5","year":2037.41,"elev":4323},{"alt":"Alt5","year":2037.72,"elev":4290},{"alt":"Alt5","year":2037.93,"elev":4290},{"alt":"Alt5","year":2038.17,"elev":4331},{"alt":"Alt5","year":2038.33,"elev":4332},{"alt":"Alt5","year":2038.64,"elev":4363},{"alt":"Alt5","year":2038.85,"elev":4369},{"alt":"Alt5","year":2039.12,"elev":4377},{"alt":"Alt5","year":2039.32,"elev":4370},{"alt":"Alt5","year":2039.57,"elev":4365},{"alt":"Alt5","year":2039.88,"elev":4356},{"alt":"Alt5","year":2040.19,"elev":4360},{"alt":"Alt5","year":2040.43,"elev":4347},{"alt":"Alt5","year":2040.64,"elev":4327},{"alt":"Alt5","year":2040.91,"elev":4312},{"alt":"Alt5","year":2041.17,"elev":4325},{"alt":"Alt5","year":2041.42,"elev":4316},{"alt":"Alt5","year":2041.73,"elev":4300},{"alt":"Alt5","year":2042.04,"elev":4307},{"alt":"Alt5","year":2042.24,"elev":4314},{"alt":"Alt5","year":2042.55,"elev":4299},{"alt":"Alt5","year":2042.86,"elev":4294},{"alt":"Alt5","year":2043.17,"elev":4312},{"alt":"Alt5","year":2043.37,"elev":4294},{"alt":"Alt5","year":2043.68,"elev":4289},{"alt":"Alt5","year":2043.99,"elev":4296},{"alt":"Alt5","year":2044.3,"elev":4314},{"alt":"Alt5","year":2044.61,"elev":4289},{"alt":"Alt5","year":2044.81,"elev":4287},{"alt":"Alt5","year":2045.05,"elev":4300},{"alt":"Alt5","year":2045.27,"elev":4311},{"alt":"Alt5","year":2045.47,"elev":4287},{"alt":"Alt5","year":2045.82,"elev":4289},{"alt":"Alt5","year":2046.13,"elev":4300},{"alt":"Alt5","year":2046.38,"elev":4310},{"alt":"Alt5","year":2046.65,"elev":4289},{"alt":"Alt5","year":2046.95,"elev":4296},{"alt":"Alt5","year":2047.26,"elev":4309},{"alt":"Alt5","year":2047.57,"elev":4285},{"alt":"Alt5","year":2047.98,"elev":4287},{"alt":"Alt5","year":2048.4,"elev":4310},{"alt":"Alt5","year":2048.7,"elev":4287},{"alt":"Alt5","year":2049.12,"elev":4287},{"alt":"Alt5","year":2049.42,"elev":4313},{"alt":"Alt5","year":2049.63,"elev":4303},{"alt":"Alt5","year":2049.88,"elev":4310},{"alt":"Alt5","year":2050.21,"elev":4323},{"alt":"Alt5","year":2050.45,"elev":4310},{"alt":"Alt5","year":2050.62,"elev":4287},{"alt":"Alt5","year":2050.82,"elev":4287}
]},
"mark": {"type": "line", "strokeWidth": 4, "strokeJoin": "round", "strokeCap": "round"},
"encoding": {
"x": {"field": "year", "type": "quantitative", "scale": {"domain": [2005, 2055], "nice": false, "zero": false}, "axis": {"title": null, "values": [2005, 2015, 2025, 2035, 2045, 2055], "format": "d", "grid": false, "tickSize": 9, "labelPadding": 12, "labelFlush": false, "labelOverlap": false}},
"y": {"field": "elev", "type": "quantitative", "scale": {"domain": [4240, 4400], "nice": false, "zero": false}, "axis": {"title": null, "values": [4240, 4260, 4280, 4300, 4320, 4340, 4360, 4380, 4400], "format": ",d", "grid": true, "tickSize": 9, "labelPadding": 18, "labelFlush": false}},
"color": {"field": "alt", "type": "nominal", "scale": {"domain": ["Alt1", "Alt2", "Alt3", "Alt4", "Alt5"], "range": ["#5B9BD5", "#FFC000", "#92D050", "#707070", "#ED7D31"]}, "legend": {"title": null, "orient": "none", "legendX": 83, "legendY": 355, "direction": "horizontal", "symbolType": "stroke", "symbolSize": 2800, "symbolStrokeWidth": 4, "labelFontSize": 22, "labelFont": "Lato", "labelColor": "black", "columnPadding": 18, "labelOffset": 4}}
},
"config": {
"view": {"stroke": null},
"axis": {"labelFont": "Lato", "labelFontSize": 22, "labelColor": "black", "domainColor": "#A0A0A0", "tickColor": "#A0A0A0", "gridColor": "#A0A0A0", "domainWidth": 1, "tickWidth": 1, "gridWidth": 1}
}
}
